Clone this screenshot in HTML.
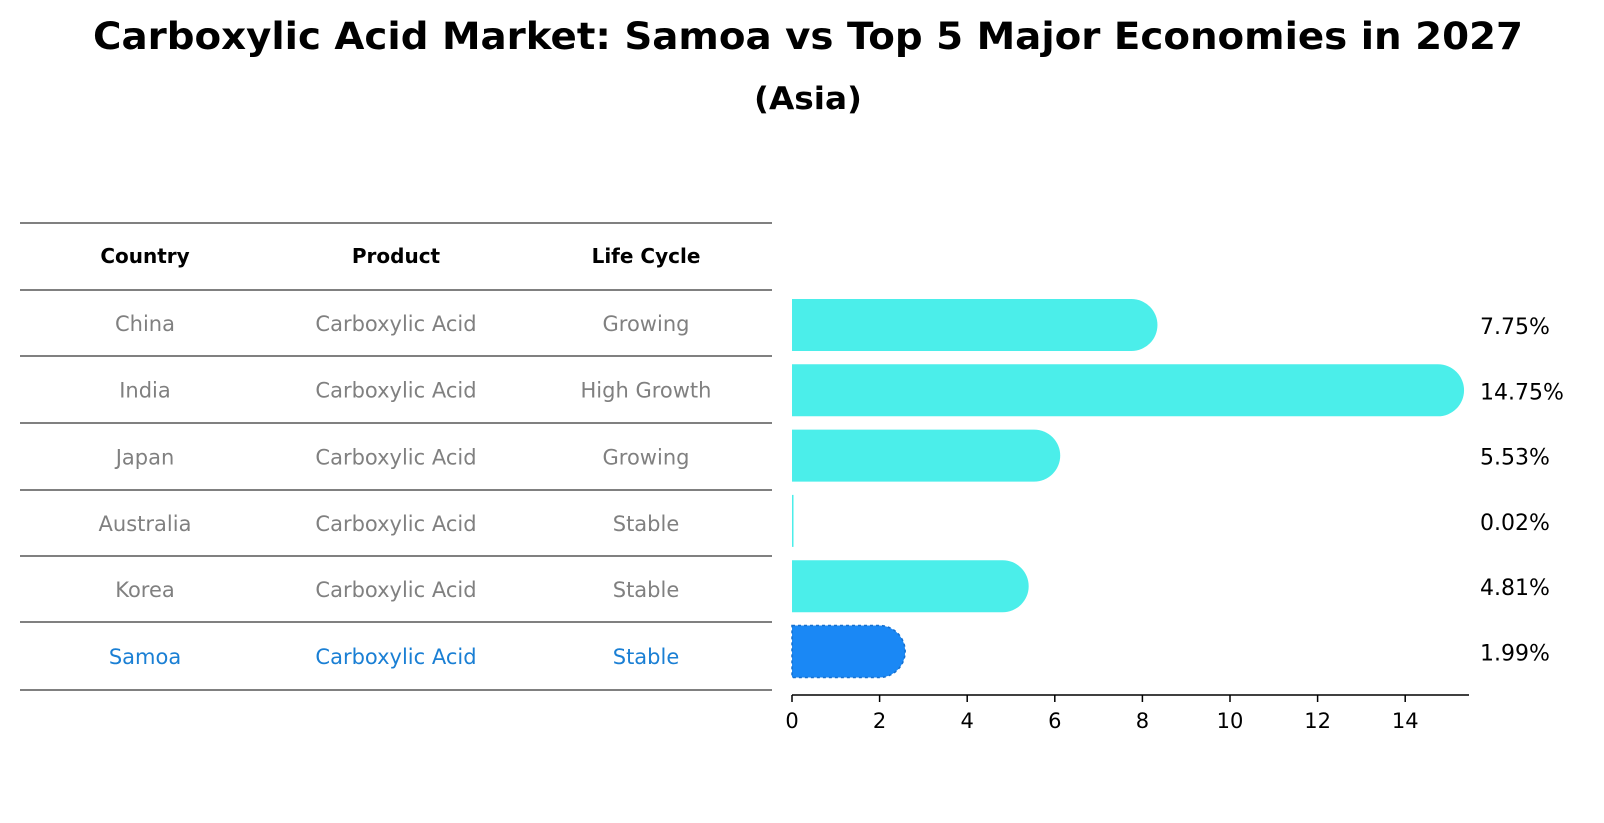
<!DOCTYPE html>
<html><head><meta charset="utf-8"><style>
html,body{margin:0;padding:0;background:#fff;overflow:hidden;width:1604px;height:823px;}
svg{display:block;}
</style></head><body>
<svg width="1604" height="823" xmlns="http://www.w3.org/2000/svg" style="font-family:'DejaVu Sans','Liberation Sans',sans-serif">
<text x="808" y="49" text-anchor="middle" font-size="37" font-weight="bold" textLength="1430" lengthAdjust="spacingAndGlyphs">Carboxylic Acid Market: Samoa vs Top 5 Major Economies in 2027</text>
<text x="808" y="109" text-anchor="middle" font-size="31" font-weight="bold" textLength="108" lengthAdjust="spacingAndGlyphs">(Asia)</text>
<g id="table"></g>
<g id="bars"></g>
<g id="axis"></g>
</svg>
<script>
const countries=["China","India","Japan","Australia","Korea","Samoa"];
const products=["Carboxylic Acid","Carboxylic Acid","Carboxylic Acid","Carboxylic Acid","Carboxylic Acid","Carboxylic Acid"];
const lifecycle=["Growing","High Growth","Growing","Stable","Stable","Stable"];
const values=[7.75,14.75,5.53,0.02,4.81,1.99];
const ticks=[0,2,4,6,8,10,12,14];
const NS="http://www.w3.org/2000/svg";
function mk(t,a,p,txt){const e=document.createElementNS(NS,t);for(const k in a)e.setAttribute(k,a[k]);if(txt!==undefined)e.textContent=txt;p.appendChild(e);return e;}
const x=v=>792+v*43.8;
const rowY=i=>325+i*65.3;
const tbl=document.getElementById('table');
const lines=[223,290,356,423,490,556,622,690];
lines.forEach(ly=>{const l=mk('line',{x1:20,x2:772,y1:ly,y2:ly,stroke:'#000','stroke-width':1},tbl);

});
const cols=[145,396,646];
["Country","Product","Life Cycle"].forEach((h,j)=>{const t=mk('text',{x:cols[j],y:263,'text-anchor':'middle','font-size':20,'font-weight':'bold'},tbl,h);

});
countries.forEach((c,i)=>{const col=i===5?'#1a7fd4':'#808080';const cy=(lines[i+1]+lines[i+2])/2+8;
[c,products[i],lifecycle[i]].forEach((s,j)=>{const t=mk('text',{x:cols[j],y:cy,'text-anchor':'middle','font-size':21,fill:col},tbl,s);

});});
const bars=document.getElementById('bars');
values.forEach((v,i)=>{const cy=rowY(i),h=52,r=26,x0=x(0),x1=x(v);
const samoa=i===5;const fill=samoa?'#1a88f5':'#4beeea';
let d;
if(v<0.1){d=`M${x0},${cy-h/2}h1.5v${h}h-1.5z`;}else{d=`M${x0},${cy-h/2}H${x1}A${r},${r} 0 0 1 ${x1},${cy+h/2}H${x0}Z`;}
const p=mk('path',{d:d,fill:fill},bars);
if(samoa){p.setAttribute('stroke','#1570d0');p.setAttribute('stroke-dasharray','3,3');p.setAttribute('stroke-width','1.5');}


const t=mk('text',{x:1480,y:cy+9,'font-size':22},bars,values[i].toFixed(2)+'%');

});
const ax=document.getElementById('axis');
mk('line',{x1:792,x2:1469,y1:695,y2:695,stroke:'#000','stroke-width':1.5},ax);
ticks.forEach(tv=>{mk('line',{x1:x(tv),x2:x(tv),y1:695,y2:702,stroke:'#000','stroke-width':1.5},ax);
const t=mk('text',{x:x(tv),y:728,'text-anchor':'middle','font-size':21},ax,tv);

});
</script>
</body></html>
